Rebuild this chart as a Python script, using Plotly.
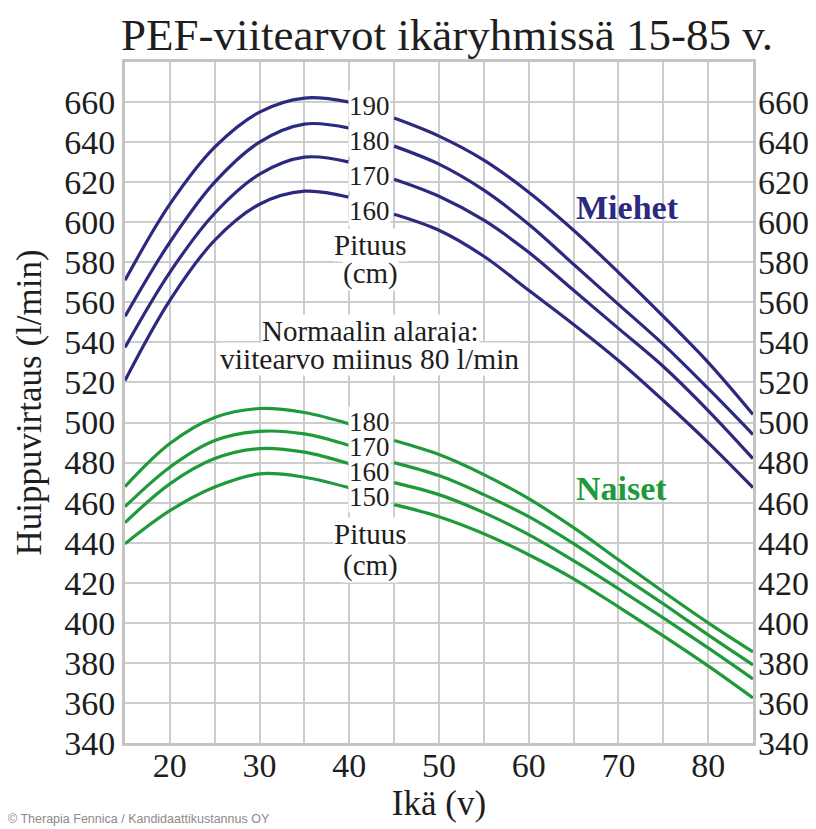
import plotly.graph_objects as go

# ---------------- data ----------------
ages = [15, 20, 25, 30, 35, 40, 45, 50, 55, 60, 65, 70, 75, 80, 85]

men_heights = ["190", "180", "170", "160"]
men_190 = [571, 609, 637.5, 655, 662, 660, 652, 643, 631, 615, 596, 575, 553, 530, 504]
men_180 = [553, 590, 620, 640, 649, 647, 638, 629, 616, 599, 579, 559, 539, 517, 494]
men_170 = [537.5, 575, 604.5, 624, 632.5, 630, 621.5, 613, 601, 585, 566, 547, 528, 506, 482]
men_160 = [521, 561, 591, 609, 615.5, 612.5, 604, 596, 583, 566, 549, 531, 511, 490, 467.5]

women_heights = ["180", "170", "160", "150"]
women_180 = [468, 489.5, 502.5, 507, 505, 499.3, 491, 484, 474, 462, 447.5, 431.5, 415.5, 400, 385.5]
women_170 = [458, 477.7, 491, 495.6, 494.3, 488.5, 480, 473.5, 464, 453, 439.5, 424.5, 409.5, 394, 379]
women_160 = [450, 469.4, 482, 487, 485.2, 479.4, 470, 464, 455, 444, 431, 417, 402.5, 387.5, 372]
women_150 = [439.5, 456, 467.8, 474.4, 472.7, 467.4, 459, 453, 444.5, 434, 422, 408, 393.5, 378.5, 362.5]

# label positions (value axis) for the height labels
men_label_y = [658, 640.6, 623, 605.7]
women_label_y = [500.1, 487.7, 475.2, 462.7]
label_age = 42.3

y_ticks = list(range(340, 661, 20))
x_ticks = [20, 30, 40, 50, 60, 70, 80]

title = "PEF-viitearvot ikäryhmissä 15-85 v."
x_title = "Ikä (v)"
y_title = "Huippuvirtaus (l/min)"
credit = "© Therapia Fennica / Kandidaattikustannus OY"

MEN_COLOR = "#2C2A80"
WOMEN_COLOR = "#1E9A3A"
GRID = "#CDCDCD"
SERIF = "Liberation Serif"
TXT = "#1e1e1e"

# the page body adds an 8px offset; the figure is sized to fit the window
W, H = 808, 821

fig = go.Figure()

def add_curve(vals, color):
    # the curve is broken where the height label sits (between 40 and 45 years)
    left = [(a, v) for a, v in zip(ages, vals) if a <= 40]
    right = [(a, v) for a, v in zip(ages, vals) if a >= 45]
    for seg in (left, right):
        fig.add_trace(go.Scatter(
            x=[p[0] for p in seg], y=[p[1] for p in seg],
            mode="lines", line=dict(color=color, width=3.2, shape="spline", smoothing=1.0),
            showlegend=False, hoverinfo="skip"))

for vals in (men_190, men_180, men_170, men_160):
    add_curve(vals, MEN_COLOR)
for vals in (women_180, women_170, women_160, women_150):
    add_curve(vals, WOMEN_COLOR)

# invisible trace to bring up the mirrored right axis
fig.add_trace(go.Scatter(x=[ages[0]], y=[y_ticks[0]], yaxis="y2", mode="markers",
                         marker=dict(opacity=0), showlegend=False, hoverinfo="skip"))

ann = []
for h, yv in zip(men_heights, men_label_y):
    ann.append(dict(x=label_age, y=yv, text=h, showarrow=False, bgcolor="white",
                    font=dict(family=SERIF, size=27, color=TXT), borderpad=0))
for h, yv in zip(women_heights, women_label_y):
    ann.append(dict(x=label_age, y=yv, text=h, showarrow=False, bgcolor="white",
                    font=dict(family=SERIF, size=27, color=TXT), borderpad=0))

def label(x, y, text, size):
    ann.append(dict(x=x, y=y, text=text, showarrow=False, bgcolor="white", borderpad=0,
                    font=dict(family=SERIF, size=size, color=TXT)))

label(42.4, 588.5, "Pituus", 29)
label(42.4, 574.3, "(cm)", 29)
label(42.4, 444.5, "Pituus", 29)
label(42.4, 428.7, "(cm)", 29)
label(42.4, 545.5, "Normaalin alaraja:", 29)
label(42.3, 531.7, "viitearvo miinus 80 l/min", 29.5)

ann.append(dict(x=71.0, y=607.3, text="<b>Miehet</b>", showarrow=False,
                font=dict(family=SERIF, size=34, color=MEN_COLOR)))
ann.append(dict(x=70.3, y=467, text="<b>Naiset</b>", showarrow=False,
                font=dict(family=SERIF, size=34, color=WOMEN_COLOR)))
ann.append(dict(x=0.0, y=0.0, xref="paper", yref="paper", xanchor="left", yanchor="bottom",
                xshift=-119, yshift=-85, text=credit, showarrow=False,
                font=dict(family="Liberation Sans", size=12.5, color="#8a8a8a")))

fig.update_layout(
    width=W, height=H,
    margin=dict(l=117, r=63, t=54, b=86),
    paper_bgcolor="white", plot_bgcolor="white",
    title=dict(text=title, x=439 / W, xanchor="center", y=1 - 26 / H, yanchor="middle",
               font=dict(family=SERIF, size=45, color=TXT)),
    xaxis=dict(range=[15, 85], tickvals=x_ticks, ticktext=[str(t) for t in x_ticks],
               showgrid=True, gridcolor=GRID, gridwidth=2,
               minor=dict(tick0=15, dtick=5, showgrid=True, gridcolor=GRID, gridwidth=2),
               showline=True, linecolor="#C4C4C4", linewidth=3, mirror=True,
               ticks="", zeroline=False, automargin=False, ticklabelstandoff=-10,
               tickfont=dict(family=SERIF, size=34, color=TXT),
               title=dict(text=x_title, font=dict(family=SERIF, size=35, color=TXT), standoff=0)),
    yaxis=dict(range=[340, 680], tickvals=y_ticks, ticktext=[str(t) for t in y_ticks],
               showgrid=True, gridcolor=GRID, gridwidth=2,
               showline=True, linecolor="#C4C4C4", linewidth=3, mirror=True,
               ticks="", zeroline=False, automargin=False,
               tickfont=dict(family=SERIF, size=34, color=TXT),
               title=dict(text=y_title, font=dict(family=SERIF, size=35, color=TXT), standoff=12)),
    yaxis2=dict(range=[340, 680], overlaying="y", side="right", matches="y",
                tickvals=y_ticks, ticktext=[str(t) for t in y_ticks],
                showgrid=False, zeroline=False, showline=False, ticks="", automargin=False,
                ticklabelstandoff=4,
                tickfont=dict(family=SERIF, size=34, color=TXT)),
    annotations=ann,
)

fig.write_html("out.html")
